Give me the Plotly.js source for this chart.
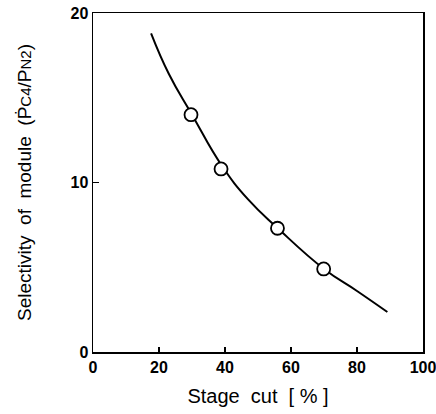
<!DOCTYPE html>
<html>
<head>
<meta charset="utf-8">
<script src="https://cdn.plot.ly/plotly-3.0.1.min.js"></script>
<style>html,body{margin:0;padding:0;background:#fff;}#chart{width:436px;height:414px;}</style>
</head>
<body>
<div id="chart"></div>
<script>
// Fitted curve
const curveX = [17.6, 23, 30, 39, 47, 56, 70, 80, 89.2];
const curveY = [18.8, 16.4, 14.0, 11.0, 9.0, 7.3, 4.9, 3.6, 2.36];
// Measured points
const pointX = [29.7, 38.8, 55.9, 69.9];
const pointY = [14.0, 10.8, 7.3, 4.9];
const xTicks = [0, 20, 40, 60, 80, 100];
const yTicks = [0, 10, 20];

const tickFont = {family: 'Liberation Sans Narrow, Arial Narrow, sans-serif', size: 16, color: '#000', weight: 700};

Plotly.newPlot('chart', [
  {x: curveX, y: curveY, mode: 'lines', line: {color: '#000', width: 2, shape: 'spline', smoothing: 1.3}, hoverinfo: 'none'},
  {x: pointX, y: pointY, mode: 'markers', marker: {symbol: 'circle', size: 13, color: '#fff', line: {color: '#000', width: 1.8}}}
], {
  width: 436, height: 414,
  margin: {l: 93, r: 13, t: 13, b: 62},
  showlegend: false,
  paper_bgcolor: '#fff', plot_bgcolor: '#fff',
  xaxis: {
    range: [0, 100], tickvals: xTicks, ticktext: xTicks.map(String),
    showgrid: false, zeroline: false, showline: true, mirror: true,
    linecolor: '#000', linewidth: 1.5, ticks: 'inside', ticklen: 5, tickwidth: 1.5, tickcolor: '#000',
    tickfont: tickFont, ticklabeloverflow: 'allow',
    title: {text: 'Stage\u00a0\u00a0cut\u00a0\u00a0[\u00a0%\u00a0]', font: {family: 'Liberation Sans, Arial, sans-serif', size: 20, color: '#000'}, standoff: 14}
  },
  yaxis: {
    range: [0, 20], tickvals: yTicks, ticktext: yTicks.map(String),
    showgrid: false, zeroline: false, showline: true, mirror: true,
    linecolor: '#000', linewidth: 1.5, ticks: 'inside', ticklen: 6, tickwidth: 1.5, tickcolor: '#000',
    tickfont: tickFont, ticklabeloverflow: 'allow',
    title: {text: 'Selectivity\u00a0\u00a0of\u00a0\u00a0module\u00a0\u00a0(Ṗ<span style="font-size:15px">C4</span>/P<span style="font-size:15px">N2</span>)', font: {family: 'Liberation Sans, Arial, sans-serif', size: 19, color: '#000'}, standoff: 34}
  }
}, {displayModeBar: false, staticPlot: true});
</script>
</body>
</html>
